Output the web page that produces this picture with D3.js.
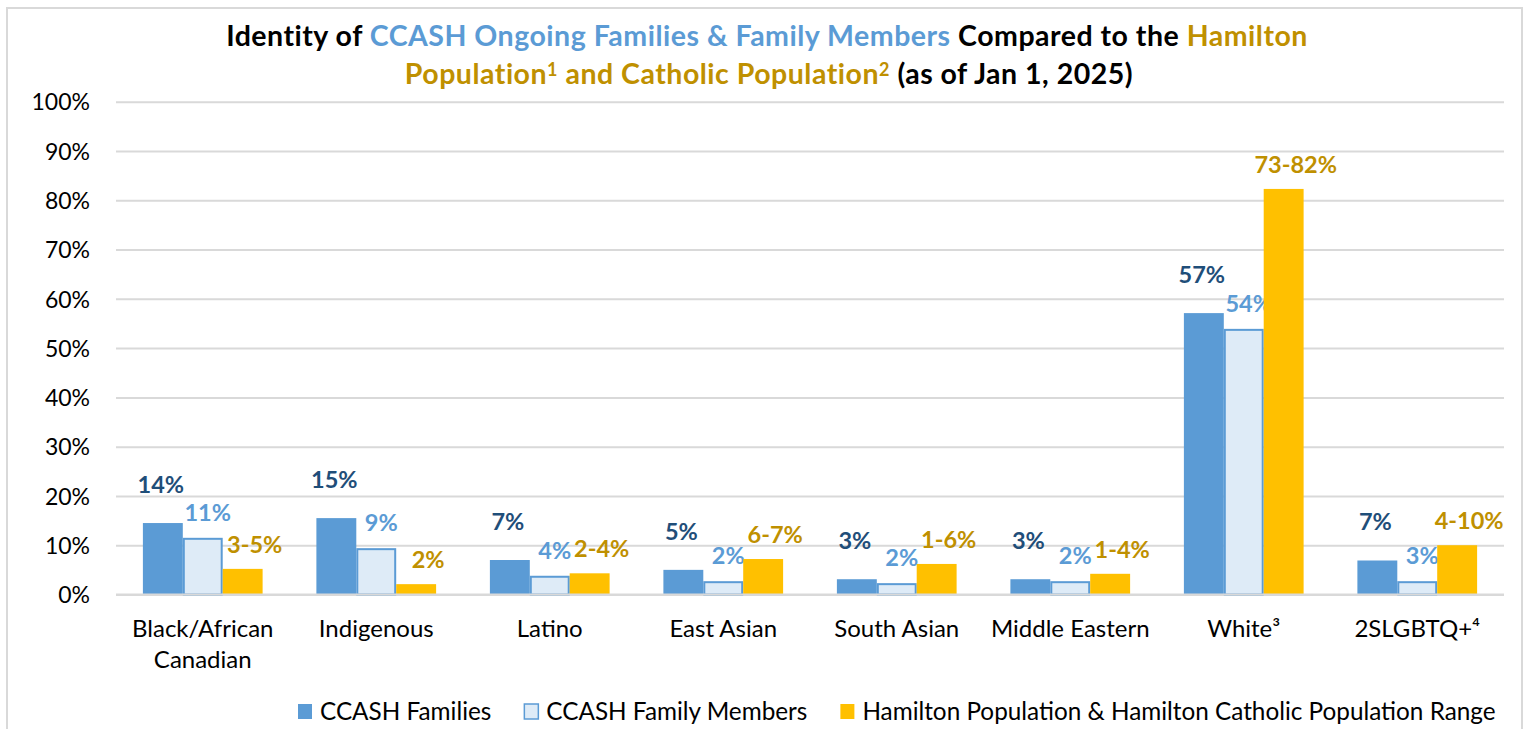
<!DOCTYPE html>
<html>
<head>
<meta charset="utf-8">
<script src="https://cdn.jsdelivr.net/npm/d3@7"></script>
<style>
  html, body { margin: 0; padding: 0; background: #ffffff; }
  svg { display: block; font-family: Lato, "Open Sans", sans-serif; }
</style>
</head>
<body>
<svg id="chart" width="1528" height="729"></svg>
<script>
// ---- data ----
const categories = ["Black/African Canadian", "Indigenous", "Latino", "East Asian", "South Asian", "Middle Eastern", "White³", "2SLGBTQ+⁴"];
const categoryLines = [["Black/African", "Canadian"], ["Indigenous"], ["Latino"], ["East Asian"], ["South Asian"], ["Middle Eastern"], ["White³"], ["2SLGBTQ+⁴"]];
const seriesNames = ["CCASH Families", "CCASH Family Members", "Hamilton Population & Hamilton Catholic Population Range"];
const familiesValues = [14.5, 15.5, 7.0, 5.0, 3.1, 3.1, 57.1, 6.9];
const membersValues = [11.3, 9.2, 3.6, 2.5, 2.1, 2.5, 53.7, 2.5];
const hamiltonValues = [5.2, 2.1, 4.3, 7.2, 6.2, 4.2, 82.3, 10.0];
const familiesLabels = ["14%", "15%", "7%", "5%", "3%", "3%", "57%", "7%"];
const membersLabels = ["11%", "9%", "4%", "2%", "2%", "2%", "54%", "3%"];
const hamiltonLabels = ["3-5%", "2%", "2-4%", "6-7%", "1-6%", "1-4%", "73-82%", "4-10%"];
const yTicks = [0, 10, 20, 30, 40, 50, 60, 70, 80, 90, 100];

// ---- styles ----
const C_FAM = "#5b9bd5", C_MEM_FILL = "#deebf7", C_HAM = "#ffc000";
const C_FAM_LBL = "#1f4e79", C_MEM_LBL = "#5b9bd5", C_HAM_LBL = "#bf9000";
const GRID = "#d9d9d9";

const svg = d3.select("#chart");
const plot = { left: 116, right: 1504, top: 101.7, bottom: 594.5 };

// outer border
svg.append("rect").attr("x", 7).attr("y", 8).attr("width", 1515).attr("height", 740)
  .attr("fill", "#fff").attr("stroke", GRID).attr("stroke-width", 2);

// scales
const x0 = d3.scaleBand().domain(categories).range([plot.left, plot.right])
  .paddingInner(0.31).paddingOuter(0.155);
const x1 = d3.scaleBand().domain(seriesNames).range([0, x0.bandwidth()]);
const y = d3.scaleLinear().domain([0, 100]).range([plot.bottom, plot.top]);

// gridlines + y axis
const yAxis = d3.axisLeft(y).tickValues(yTicks).tickFormat(d => d + "%")
  .tickSize(-(plot.right - plot.left)).tickPadding(26);
const gy = svg.append("g").attr("transform", `translate(${plot.left},0)`).call(yAxis);
gy.select(".domain").remove();
gy.selectAll(".tick line").attr("stroke", GRID).attr("stroke-width", 2);
gy.selectAll(".tick text").attr("font-size", 23).attr("fill", "#000")
  .attr("font-family", "Lato").attr("dy", "0.36em");

// bars
const series = [
  { name: seriesNames[0], values: familiesValues, labels: familiesLabels, fill: C_FAM, stroke: "none", lbl: C_FAM_LBL, dx: -2, dy: -30 },
  { name: seriesNames[1], values: membersValues, labels: membersLabels, fill: C_MEM_FILL, stroke: C_FAM, lbl: C_MEM_LBL, dx: 5, dy: -18 },
  { name: seriesNames[2], values: hamiltonValues, labels: hamiltonLabels, fill: C_HAM, stroke: "none", lbl: C_HAM_LBL, dx: 12, dy: -16 }
];

const groups = svg.append("g");
series.forEach(s => {
  const g = groups.append("g");
  g.selectAll("rect").data(categories).join("rect")
    .attr("x", (c) => x0(c) + x1(s.name) + (s.stroke !== "none" ? 1 : 0))
    .attr("y", (c, i) => y(s.values[i]))
    .attr("width", x1.bandwidth() - (s.stroke !== "none" ? 2 : 0))
    .attr("height", (c, i) => y(0) - y(s.values[i]))
    .attr("fill", s.fill)
    .attr("stroke", s.stroke)
    .attr("stroke-width", 2);
  g.selectAll("text").data(categories).join("text")
    .attr("x", c => x0(c) + x1(s.name) + x1.bandwidth() / 2 + s.dx)
    .attr("y", (c, i) => y(s.values[i]) + s.dy)
    .attr("text-anchor", "middle")
    .attr("font-size", 23.5)
    .attr("font-weight", "bold")
    .attr("fill", s.lbl)
    .text((c, i) => s.labels[i]);
});

// x axis line (baseline)
svg.append("line").attr("x1", plot.left).attr("x2", plot.right)
  .attr("y1", y(0)).attr("y2", y(0)).attr("stroke", GRID).attr("stroke-width", 2);

// category labels
categories.forEach((c, i) => {
  const t = svg.append("text").attr("text-anchor", "middle").attr("font-size", 24).attr("fill", "#000");
  categoryLines[i].forEach((ln, j) => {
    t.append("tspan").attr("x", x0(c) + x0.bandwidth() / 2).attr("y", 637 + j * 31).text(ln);
  });
});

// title
const title = svg.append("text").attr("text-anchor", "middle").attr("font-size", 28.5)
  .attr("font-weight", "bold").attr("letter-spacing", 0.5);
[["Identity of ", "#000"], ["CCASH Ongoing Families & Family Members", C_FAM], [" Compared to the ", "#000"], ["Hamilton", C_HAM_LBL]]
  .forEach(([t, c], i) => {
    const ts = title.append("tspan").attr("fill", c).text(t);
    if (i === 0) ts.attr("x", 767).attr("y", 46);
  });

const title2 = svg.append("text").attr("text-anchor", "middle").attr("font-size", 28.5)
  .attr("font-weight", "bold").attr("letter-spacing", 0.5);
title2.append("tspan").attr("x", 769).attr("y", 84).attr("fill", C_HAM_LBL).text("Population");
title2.append("tspan").attr("fill", C_HAM_LBL).attr("font-size", 18).attr("dy", -8).text("1");
title2.append("tspan").attr("fill", C_HAM_LBL).attr("dy", 8).text(" and Catholic Population");
title2.append("tspan").attr("fill", C_HAM_LBL).attr("font-size", 18).attr("dy", -8).text("2");
title2.append("tspan").attr("fill", "#000").attr("dy", 8).text(" (as of Jan 1, 2025)");

// legend
const legend = svg.append("g");
const legendSwatch = [
  { fill: C_FAM, stroke: "none" },
  { fill: C_MEM_FILL, stroke: C_FAM },
  { fill: C_HAM, stroke: "none" }
];
let lx = 297;
seriesNames.forEach((n, i) => {
  legend.append("rect").attr("x", lx + 1).attr("y", 704).attr("width", 14).attr("height", 15)
    .attr("fill", legendSwatch[i].fill).attr("stroke", legendSwatch[i].stroke).attr("stroke-width", 1.5);
  const t = legend.append("text").attr("x", lx + 23).attr("y", 720).attr("font-size", 24.3).attr("fill", "#000").text(n);
  lx += 23 + t.node().getComputedTextLength() + 32;
});
</script>
</body>
</html>
